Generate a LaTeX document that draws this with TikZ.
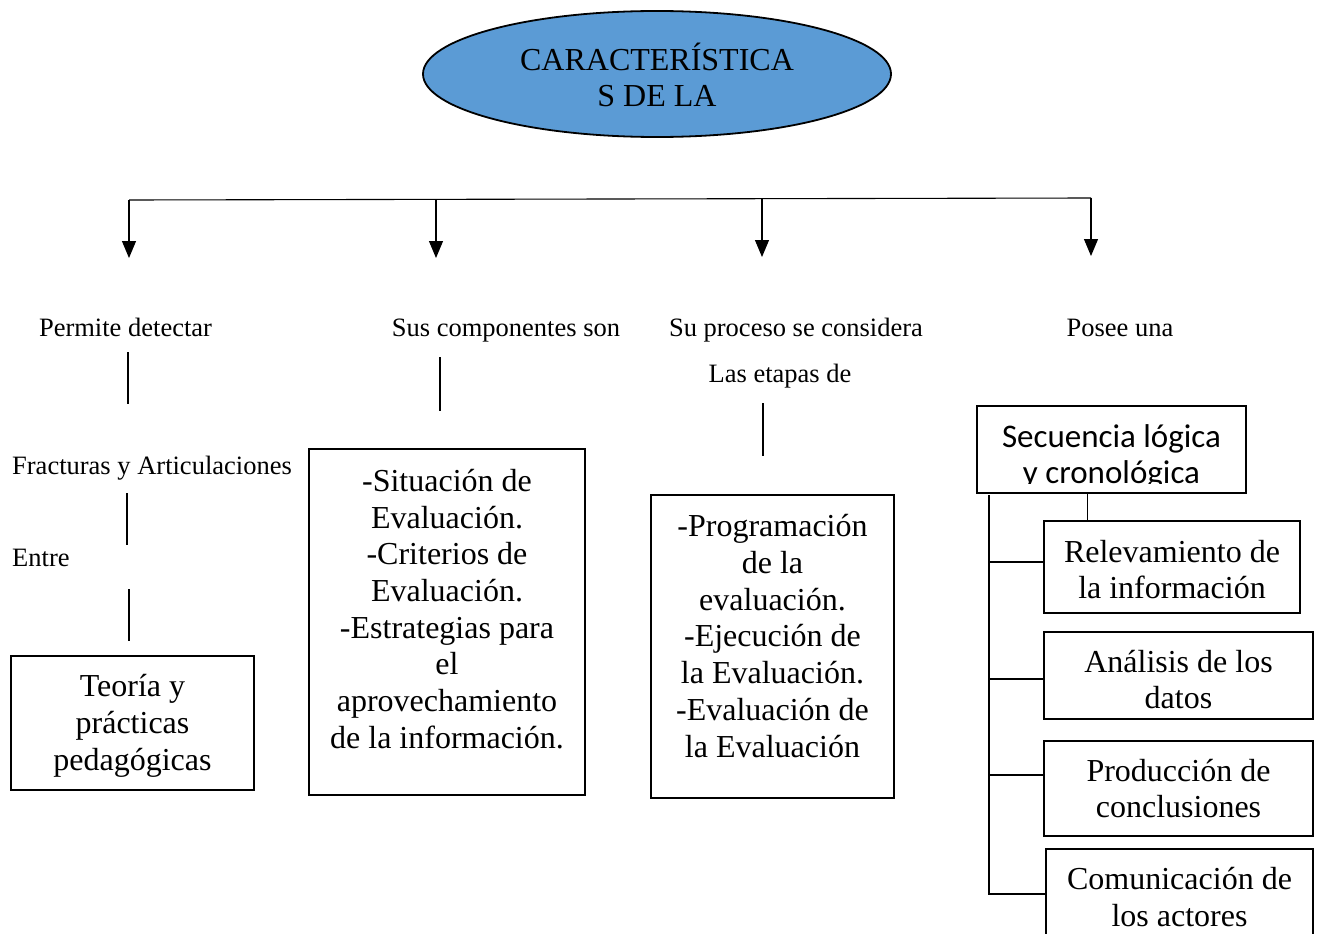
\documentclass[tikz,border=0pt]{standalone}
\usepackage{fontspec}
\setmainfont{Liberation Serif}
\newfontfamily\calib{Carlito}
\usetikzlibrary{shapes.geometric,arrows.meta}
\definecolor{elblue}{HTML}{5B9BD5}
\begin{document}
\begin{tikzpicture}[x=1pt,y=-1pt,
  boxst/.style={draw,line width=1.2pt,inner sep=0pt},
  txt/.style={align=center,inner sep=0pt,font=\fontsize{32}{36.7}\selectfont},
  lab/.style={inner sep=0pt,text height=18pt,text depth=0pt,font=\fontsize{26.5}{30}\selectfont},
  conn/.style={line width=1.1pt},
  arr/.style={line width=1.1pt,-{Triangle[width=14pt,length=17pt]}}]
\useasboundingbox (0,0) rectangle (1317,934);
% title
\node[ellipse,draw,line width=1.8pt,fill=elblue,minimum width=468,minimum height=126,inner sep=0pt] (el) at (657,74) {};
\node[txt] (eltxt) at (657,75) {CARACTERÍSTICA\\S DE LA};
% bar and arrows
\coordinate (b1) at (129,200);
\coordinate (b2) at (436,199.5);
\coordinate (b3) at (762,199);
\coordinate (b4) at (1091,198);
\coordinate (a1) at (129,258);
\coordinate (a2) at (436,258);
\coordinate (a3) at (762,257);
\coordinate (a4) at (1091,256);
\draw[conn] (b1) -- (b4);
\draw[arr] (b1) -- (a1);
\draw[arr] (b2) -- (a2);
\draw[arr] (b3) -- (a3);
\draw[arr] (b4) -- (a4);
% labels
\node[lab] (l1) at (125.5,327) {Permite detectar};
\node[lab] (l2) at (506,327) {Sus componentes son};
\node[lab] (l3) at (796,327) {Su proceso se considera};
\node[lab] (l4) at (1120,327) {Posee una};
\node[lab] (l5) at (780,373) {Las etapas de};
\node[lab] (l6) at (152,465) {Fracturas y Articulaciones};
\node[lab,anchor=west] (l7) at (12,557) {Entre};
% floating vertical lines
\coordinate (v1a) at (128,352); \coordinate (v1b) at (128,404);
\coordinate (v2a) at (127,493); \coordinate (v2b) at (127,545);
\coordinate (v3a) at (129,589); \coordinate (v3b) at (129,641);
\coordinate (v4a) at (440,357); \coordinate (v4b) at (440,411);
\coordinate (v5a) at (763,403); \coordinate (v5b) at (763,456);
\draw[conn] (v1a) -- (v1b);
\draw[conn] (v2a) -- (v2b);
\draw[conn] (v3a) -- (v3b);
\draw[conn] (v4a) -- (v4b);
\draw[conn] (v5a) -- (v5b);
% boxes
\node[boxst,minimum width=243,minimum height=134] (bteo) at (132.5,723) {};
\node[txt] (tteo) at (132.5,726) {Teoría y\\prácticas\\pedagógicas};
\node[boxst,minimum width=276,minimum height=346] (bsit) at (447,622) {};
\node[txt] (tsit) at (447,609) {-Situación de\\Evaluación.\\-Criterios de\\Evaluación.\\-Estrategias para\\el\\aprovechamiento\\de la información.};
\node[boxst,minimum width=243,minimum height=303] (bpro) at (772.5,646.5) {};
\node[txt] (tpro) at (772.5,636) {-Programación\\de la\\evaluación.\\-Ejecución de\\la Evaluación.\\-Evaluación de\\la Evaluación};
% secuencia
\node[boxst,minimum width=269,minimum height=87] (bsec) at (1111.5,449.5) {};
\begin{scope}
\clip (978,407) rectangle (1245,483);
\node[inner sep=0pt,align=center,font=\calib\fontsize{33}{36}\selectfont] (tsec) at (1111.5,457) {Secuencia lógica\\y cronológica};
\end{scope}
% right boxes
\node[boxst,minimum width=256,minimum height=92] (brel) at (1172,567) {};
\node[txt] (trel) at (1172,569.5) {Relevamiento de\\la información};
\node[boxst,minimum width=269,minimum height=87] (bana) at (1178.5,675.5) {};
\node[txt] (tana) at (1178.5,679.5) {Análisis de los\\datos};
\node[boxst,minimum width=269,minimum height=95] (bpr) at (1178.5,788.5) {};
\node[txt] (tpr) at (1178.5,788.5) {Producción de\\conclusiones};
\node[boxst,minimum width=267,minimum height=100] (bcom) at (1179.5,899) {};
\node[txt] (tcom) at (1179.5,897) {Comunicación de\\los actores};
% connectors right
\draw[conn] ([xshift=111pt]bsec.south west) -- ([xshift=44pt]brel.north west);
\coordinate (sp0) at (989,495);
\coordinate (sp1) at (989,895);
\draw[conn] (sp0) -- (sp1);
\coordinate (r1) at ([yshift=5pt]brel.west);
\coordinate (r2) at ([yshift=-3.5pt]bana.west);
\coordinate (r3) at ([yshift=13.5pt]bpr.west);
\coordinate (r4) at ([yshift=5pt]bcom.west);
\draw[conn] (sp0 |- r1) -- (r1);
\draw[conn] (sp0 |- r2) -- (r2);
\draw[conn] (sp0 |- r3) -- (r3);
\draw[conn] (sp0 |- r4) -- (r4);
\end{tikzpicture}
\end{document}
